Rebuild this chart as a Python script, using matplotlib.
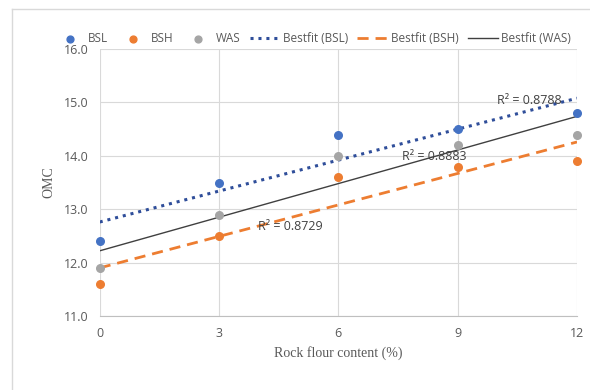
import numpy as np
import matplotlib.pyplot as plt
from matplotlib.lines import Line2D

rock_flour = [0, 3, 6, 9, 12]
bsl = [12.4, 13.5, 14.4, 14.5, 14.8]
bsh = [11.6, 12.5, 13.6, 13.8, 13.9]
was = [11.9, 12.9, 14.0, 14.2, 14.4]
r2_labels = ["R² = 0.8788", "R² = 0.8729", "R² = 0.8883"]

fig = plt.figure(figsize=(5.9, 3.9), dpi=100)
ax = fig.add_axes([0.169, 0.190, 0.809, 0.684])

c_bsl, c_bsh, c_was = "#4472C4", "#ED7D31", "#A5A5A5"

# trend lines (linear least squares, like the spreadsheet trendline)
xs = np.array(rock_flour, dtype=float)
fits = {}
for name, ys in [("BSL", bsl), ("BSH", bsh), ("WAS", was)]:
    fits[name] = np.polyfit(xs, ys, 1)
xl = np.array([0, 12])

ax.scatter(rock_flour, bsl, s=30, color=c_bsl, zorder=3, label="BSL", clip_on=False)
ax.scatter(rock_flour, bsh, s=30, color=c_bsh, zorder=3, label="BSH", clip_on=False)
ax.scatter(rock_flour, was, s=30, color=c_was, zorder=3, label="WAS", clip_on=False)
ax.plot(xl, np.polyval(fits["BSL"], xl), color="#2F4E9A", lw=2.2, ls=(0, (1, 1.6)),
        label="Bestfit (BSL)", zorder=2)
ax.plot(xl, np.polyval(fits["BSH"], xl), color=c_bsh, lw=2.0, ls=(0, (4, 2.5)),
        label="Bestfit (BSH)", zorder=2)
ax.plot(xl, np.polyval(fits["WAS"], xl), color="#404040", lw=1.0,
        label="Bestfit (WAS)", zorder=2)

ax.text(10.0, 15.04, r2_labels[0], fontsize=9, color="#404040", va="center", family="Open Sans")
ax.text(3.97, 12.67, r2_labels[1], fontsize=9, color="#404040", va="center", family="Open Sans")
ax.text(7.6, 13.98, r2_labels[2], fontsize=9, color="#404040", va="center", family="Open Sans")

ax.set_xlim(0, 12)
ax.set_ylim(11, 16)
ax.set_xticks([0, 3, 6, 9, 12])
ax.set_yticks([11, 12, 13, 14, 15, 16])
ax.set_yticklabels([f"{v:.1f}" for v in [11, 12, 13, 14, 15, 16]])
ax.grid(True, color="#D9D9D9", lw=0.8)
ax.set_axisbelow(True)
for s in ["top", "right", "left"]:
    ax.spines[s].set_visible(False)
ax.spines["bottom"].set_color("#BFBFBF")
ax.tick_params(length=0, colors="#595959", labelsize=9, pad=8)
for lab in ax.get_xticklabels() + ax.get_yticklabels():
    lab.set_family("Open Sans")

ax.set_xlabel("Rock flour content (%)", family="Liberation Serif", fontsize=10,
              color="#595959", labelpad=4)
ax.set_ylabel("OMC", family="Liberation Serif", fontsize=10, color="#595959", labelpad=6)

handles, labels = ax.get_legend_handles_labels()
leg = fig.legend(handles, labels, loc="center", bbox_to_anchor=(0.53, 0.9), ncol=6,
                 frameon=False, fontsize=8.5, handlelength=2.6, columnspacing=0.8,
                 handletextpad=0.2, scatterpoints=1, markerscale=0.9)
for t in leg.get_texts():
    t.set_color("#595959")
    t.set_family("Open Sans")

# chart area border
fig.add_artist(Line2D([0.02, 0.02], [0, 0.977], transform=fig.transFigure, color="#D9D9D9", lw=1))
fig.add_artist(Line2D([0.02, 1], [0.977, 0.977], transform=fig.transFigure, color="#D9D9D9", lw=1))

fig.savefig("out.png", dpi=100)
